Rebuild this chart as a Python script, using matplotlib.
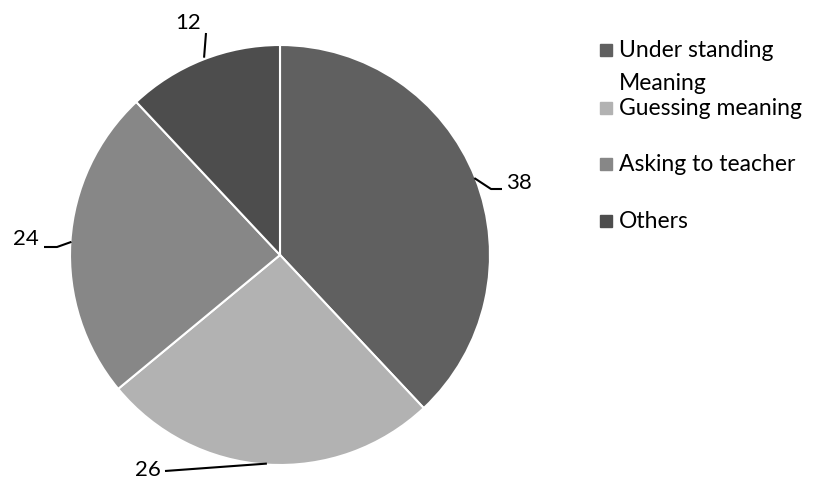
"""
Pie chart of strategies used for understanding word meaning
"""

### Import modules
import numpy as np
import matplotlib
matplotlib.use('Agg')
import matplotlib.pyplot as plt
from matplotlib.patches import Rectangle

### Data
categories = ['Under standing\nMeaning', 'Guessing meaning',
              'Asking to teacher', 'Others']
values = [38, 26, 24, 12]
colors = ['#606060', '#b2b2b2', '#878787', '#4d4d4d']

### Layout (pixel units, y measured upward)
W, H = 819, 479
center = (280, 224)
radius = 210
# label text anchor, elbow point, end of leader line
label_pos = [(506, 296, 'left'), (161, 9, 'right'), (39, 240, 'right'),
             (188, 456, 'center')]
elbows = [[(491, 290), (502, 290)],
          [(165, 8)],
          [(57, 232), (44, 232)],
          [(206, 446)]]

plt.rcParams['font.family'] = ['Lato', 'DejaVu Sans']
fs = 16
fsleg = 16.5

fig = plt.figure(figsize=(W/100, H/100), dpi=100)
ax = fig.add_axes([0, 0, 1, 1])

wedges, _ = ax.pie(values, colors=colors, startangle=90, counterclock=False,
                   center=center, radius=radius,
                   wedgeprops=dict(edgecolor='white', linewidth=1.5))
ax.set_xlim(0, W)
ax.set_ylim(0, H)
ax.set_aspect('equal')
ax.axis('off')

### Leader lines and data labels
for i, w in enumerate(wedges):
    ang = np.deg2rad((w.theta1 + w.theta2) / 2.)
    x0 = center[0] + (radius - 1) * np.cos(ang)
    y0 = center[1] + (radius - 1) * np.sin(ang)
    if i == 3:
        x0 = x0 + 1
        y0 = y0 + 3
    pts = [(x0, y0)] + elbows[i]
    xs, ys = zip(*pts)
    ax.plot(xs, ys, color='black', linewidth=1.5, solid_capstyle='butt')
    tx, ty, ha = label_pos[i]
    ax.text(tx, ty, str(values[i]), ha=ha, va='center', fontsize=fs,
            color='black')

### Legend drawn by hand
leg_y = [429, 371, 315, 258]
for i, cat in enumerate(categories):
    ax.add_patch(Rectangle((600, leg_y[i] - 6), 12, 12, color=colors[i]))
    lines = cat.split('\n')
    for j, ln in enumerate(lines):
        ax.text(619, leg_y[i] - 33 * j, ln, ha='left', va='center',
                fontsize=fsleg, color='black')

plt.savefig('out.png', dpi=100)
